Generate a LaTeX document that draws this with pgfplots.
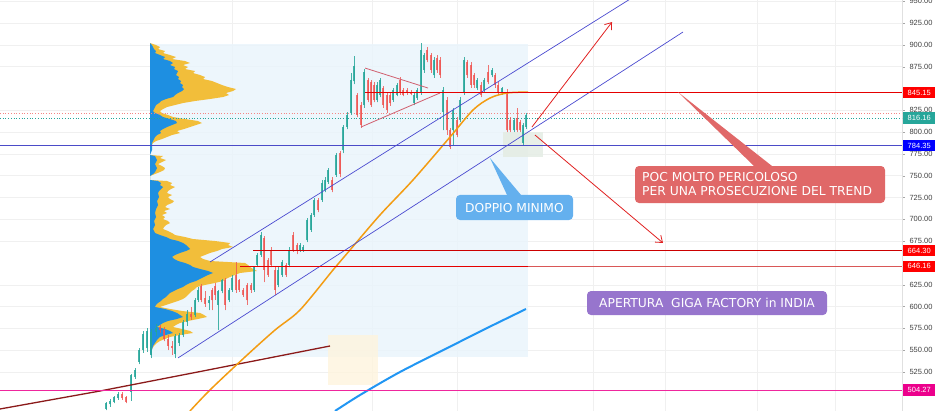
\documentclass[border=0pt]{standalone}
\usepackage{fontspec}
\setmainfont{Liberation Sans}
\newfontfamily\dv{DejaVu Sans}
\usepackage{pgfplots}
\pgfplotsset{compat=1.18}
\usepackage{pgfplotstable}
\usetikzlibrary{arrows.meta}
\definecolor{upc}{HTML}{26A69A}
\definecolor{dnc}{HTML}{EF5350}
\definecolor{vpbg}{HTML}{EAF4FB}
\definecolor{vpyel}{HTML}{F2BE3A}
\definecolor{vpblue}{HTML}{1E8FE1}
\definecolor{chan}{HTML}{4A4AD0}
\definecolor{hblue}{HTML}{4B4BC8}
\definecolor{ma50}{HTML}{F39C12}
\definecolor{ma200}{HTML}{2196F3}
\definecolor{madr}{HTML}{8B1A1A}
\definecolor{boxred}{HTML}{E06868}
\definecolor{boxblue}{HTML}{64B0EE}
\definecolor{boxpur}{HTML}{9775CD}
\definecolor{trired}{HTML}{D06070}
\definecolor{arred}{HTML}{E02020}

\pgfplotstableread{
x o h l c
106 483 491 481 489
110 488 494 485 492
114 491 498 489 496
118 495 502 493 500
131 502 523 492 521
135 519 530 517 527
139 537 552 534 550
143 550 572 547 568
147 552 575 548 572
151 545 574 541 571
156 571 580 566 576
175 546 569 541 566
179 558 570 555 567
183 567 585 565 582
187 582 596 578 592
195 590 610 588 607
198 608 622 605 619
209 604 612 596 608
218 602 619 573 618
222 618 632 615 630
229 607 621 605 619
232 619 636 617 633
254 619 647 617 645
257 648 661 646 659
261 659 685 657 682
278 625 645 622 642
282 636 653 634 651
289 648 668 645 665
300 665 673 663 671
303 665 670 663 668
307 676 702 674 699
311 688 707 686 705
314 705 724 703 722
322 722 745 720 742
325 734 748 731 745
328 743 759 741 757
336 751 776 749 774
343 779 808 776 806
347 806 823 803 820
351 822 868 820 860
354 858 887 855 876
364 831 872 828 869
377 837 857 834 854
380 843 862 840 860
393 837 850 835 848
397 843 856 841 854
414 833 845 831 843
417 839 850 837 848
421 846 902 843 894
424 871 891 868 888
434 865 886 862 883
443 823 852 802 848
453 802 828 785 825
460 814 840 811 837
464 846 886 843 883
477 850 862 848 860
484 848 862 846 860
492 865 873 863 871
502 845 852 843 850
514 802 816 800 814
523 788 810 785 808
526 806 822 804 820
}\upt

\pgfplotstableread{
x o h l c
122 500 502 493 495
126 496 498 489 491
160 577 579 570 573
164 573 577 560 563
168 563 567 550 555
172 555 560 545 552
191 592 600 585 588
201 624 626 605 608
205 610 618 600 603
212 619 621 596 607
215 624 627 608 613
225 630 633 596 602
236 636 651 616 619
239 630 632 617 619
243 619 621 611 613
247 625 627 602 607
251 625 627 616 619
264 679 681 628 642
268 653 656 634 636
271 665 668 645 648
275 642 645 613 619
286 648 650 634 636
293 682 685 663 665
297 671 673 660 665
318 722 724 708 711
332 745 748 731 734
340 776 778 748 752
357 842 845 817 820
361 831 834 805 808
368 860 862 834 837
371 857 860 829 831
374 854 857 834 837
383 850 853 828 831
387 843 846 822 825
390 843 846 830 833
400 860 863 843 846
403 848 850 841 843
407 848 850 843 845
411 846 848 842 844
427 894 897 880 883
431 888 891 868 871
437 885 888 868 871
440 883 886 862 865
447 837 840 797 802
450 802 805 781 783
457 814 817 794 797
467 880 883 862 865
471 877 880 851 854
474 865 868 851 854
481 854 857 840 843
488 869 877 855 857
495 865 868 851 854
498 854 857 843 846
507 846 849 800 802
510 814 817 800 802
517 816 828 800 802
520 811 814 800 802
}\dnt

% volume profile, total volume edge (px = right edge, py = pixel row)
\pgfplotstableread{
px py
150 43
156 45
160 47
158 49
165 51
163 53
170 55
176 57
172 59
185 61
190 63
183 65
188 67
185 69
195 71
193 73
200 75
205 77
203 79
212 81
217 83
222 85
228 87
236 89
233 91
226 93
229 95
223 97
210 99
195 101
183 103
175 105
167 107
163 109
160 111
162 113
168 115
173 117
185 119
198 121
202 123
196 125
190 127
184 129
177 131
180 133
172 135
167 137
162 139
156 141
153 143
151 146
150 150
150 155
163 156
160 158
166 160
162 162
158 164
162 166
165 168
164 170
160 172
155 174
150 176
150 180
167 181
172 183
170 185
175 187
171 189
168 191
167 193
172 195
168 197
170 199
174 201
172 203
167 205
165 207
170 209
164 211
167 213
162 215
165 217
163 219
168 221
170 223
166 225
164 227
163 229
168 231
172 233
175 235
185 237
193 239
215 241
230 243
228 245
233 247
222 249
217 251
210 253
205 255
200 257
203 259
210 261
245 263
248 265
250 267
253 269
257 271
240 273
235 275
230 277
226 279
223 281
215 283
205 285
197 287
195 289
192 291
190 293
188 295
186 297
183 299
178 301
172 303
166 305
160 307
170 309
182 311
200 313
204 315
207 317
198 319
188 321
180 323
176 325
173 327
182 329
190 331
193 333
180 335
170 337
165 339
160 341
157 343
154 346
152 349
150 353
}\vpy

\pgfplotstableread{
px py
150 43
152 45
153 47
154 49
156 51
155 53
160 55
165 57
163 59
170 61
173 63
170 65
175 67
174 69
178 71
177 73
176 75
179 77
178 79
181 81
180 83
183 85
182 87
184 89
182 91
178 93
175 95
173 97
166 99
161 101
159 103
156 105
155 107
154 109
153 111
155 113
160 115
163 117
170 119
176 121
177 123
172 125
167 127
163 129
160 131
161 133
157 135
155 137
154 139
153 141
152 143
152 150
150 155
155 156
157 160
155 164
157 168
155 172
153 174
150 176
150 180
158 181
161 183
160 185
163 187
161 189
159 191
158 193
159 197
157 201
158 205
156 209
155 213
156 217
154 221
155 225
153 229
155 233
160 235
166 237
170 239
178 241
183 243
186 245
188 247
190 249
186 251
180 253
175 255
172 257
174 259
178 261
185 263
190 265
193 267
200 269
208 271
213 273
208 275
204 277
200 279
196 281
190 283
186 285
183 287
178 289
174 291
170 293
168 295
166 297
163 299
161 301
158 303
156 305
155 307
165 309
172 311
177 313
180 315
183 317
177 319
168 321
163 323
160 325
157 327
165 329
170 331
173 333
166 335
160 337
157 340
155 343
153 346
152 350
150 355
}\vpb

\begin{document}
\begin{tikzpicture}
\useasboundingbox (0,0) rectangle (940pt,411pt);
\begin{axis}[
  at={(0,0)}, anchor=south west, scale only axis,
  width=902pt, height=411pt,
  xmin=0, xmax=902, ymin=480.3, ymax=951.4,
  axis x line=none, axis y line*=right,
  y axis line style={draw=black!12, -},
  ytick={525,550,575,600,625,675,700,725,750,775,800,825,875,900,925,950},
  yticklabel style={font=\fontsize{7.5}{8}\selectfont, text=black!75, xshift=1pt,
    /pgf/number format/.cd, fixed, fixed zerofill, precision=2, assume math mode=true},
  tick style={black!35}, major tick length=3pt, tick align=outside,
  ymajorgrids, grid style={black!6},
  clip mode=individual,
  candle/.style={only marks, mark=*, mark size=0pt, mark options={draw=none, fill=none}},
]
% vertical faint grid
\foreach \gx in {232,372,457,593,665,757,835} {
  \edef\tmp{\noexpand\addplot[black!6, line width=0.5pt] coordinates {(\gx,480.3) (\gx,951.4)};}\tmp
}
% shaded regions
\addplot[fill=vpbg, draw=none, fill opacity=0.85] coordinates {(150,900.9) (528,900.9) (528,542.2) (150,542.2)} -- cycle;
\addplot[fill=yellow!40!orange!12, draw=none, fill opacity=0.8] coordinates {(328,567.4) (378,567.4) (378,510.1) (328,510.1)} -- cycle;
\addplot[fill=green!30!black!10!white, draw=none, fill opacity=0.9] coordinates {(503,800.1) (543,800.1) (543,771.4) (503,771.4)} -- cycle;

% volume profile
\addplot[fill=vpyel, draw=none] table[x=px, y expr={925-(\thisrow{py}-23)*1.1461}] {\vpy} -- cycle;
\addplot[fill=vpblue, draw=none] table[x=px, y expr={925-(\thisrow{py}-23)*1.1461}] {\vpb} -- cycle;

% dotted lines
\addplot[dnc!70, dotted, line width=0.7pt] coordinates {(0,821.8) (902,821.8)};
\addplot[upc, dotted, line width=0.7pt] coordinates {(0,816.16) (902,816.16)};

% candles: wicks and bodies
\addplot[candle, error bars/.cd, y dir=plus, y explicit, error mark=none,
  error bar style={draw=upc, line width=0.7pt, opacity=0.85}]
  table[x=x, y=l, y error plus expr=\thisrow{h}-\thisrow{l}, y error minus expr=0] {\upt};
\addplot[candle, error bars/.cd, y dir=plus, y explicit, error mark=none,
  error bar style={draw=upc, line width=2.4pt, opacity=0.85}]
  table[x=x, y=o, y error plus expr=\thisrow{c}-\thisrow{o}, y error minus expr=0] {\upt};
\addplot[candle, error bars/.cd, y dir=plus, y explicit, error mark=none,
  error bar style={draw=dnc, line width=0.7pt, opacity=0.8}]
  table[x=x, y=l, y error plus expr=\thisrow{h}-\thisrow{l}, y error minus expr=0] {\dnt};
\addplot[candle, error bars/.cd, y dir=plus, y explicit, error mark=none,
  error bar style={draw=dnc, line width=2.4pt, opacity=0.8}]
  table[x=x, y=c, y error plus expr=\thisrow{o}-\thisrow{c}, y error minus expr=0] {\dnt};

% moving averages
\addplot[madr, line width=1.3pt] coordinates {(0,482.6) (100,503.2) (200,525.5) (330,554.8)};
\addplot[ma50, line width=1.5pt, smooth] coordinates {(190,480.3) (210,504.4) (245,542.2) (275,573.1) (300,596.1) (333,641.9) (350,664.8) (380,705.0) (413,745.1) (450,794.3) (473,825.3) (490,839.0) (507,844.8) (528,845.9)};
\addplot[ma200, line width=2pt, smooth] coordinates {(335,480.3) (360,498.6) (400,525.0) (450,554.0) (483,573.1) (526,597.2)};

% channel
\addplot[chan, line width=0.7pt] coordinates {(210,651.1) (630,952.4)};
\addplot[chan, line width=0.7pt] coordinates {(178,541.1) (683,914.7)};

% triangle
\addplot[trired, line width=0.8pt] coordinates {(365,873.4) (428,850.5)};
\addplot[trired, line width=0.8pt] coordinates {(361,805.8) (440,844.8)};

% horizontal levels
\addplot[hblue, line width=1.1pt] coordinates {(0,784.35) (902,784.35)};
\addplot[red!90!black, line width=1.5pt] coordinates {(365,845.15) (902,845.15)};
\addplot[red!80!black, line width=0.8pt] coordinates {(253,664.30) (902,664.30)};
\addplot[red!60!white!85!black, line width=1.1pt] coordinates {(528,646.16) (902,646.16)};
\addplot[red!90!black, line width=1.4pt] coordinates {(240,646.16) (528,646.16)};
\addplot[magenta!85!white, line width=1.1pt] coordinates {(0,504.27) (902,504.27)};

% arrows
\addplot[arred, line width=0.8pt, -{Straight Barb[length=6pt,width=9pt]}] coordinates {(532,805.8) (612,926.1)};
\addplot[arred, line width=0.8pt, -{Straight Barb[length=6pt,width=9pt]}] coordinates {(535,796.6) (663,672.9)};

% callout pointers
\fill[boxblue] (axis cs:490,770.3) -- (axis cs:507,727.9) -- (axis cs:521,727.9) -- cycle;
\fill[boxred] (axis cs:678,845.9) -- (axis cs:754,761.1) -- (axis cs:772,761.1) -- cycle;

% callout boxes
\fill[boxred, rounded corners=4pt] (axis cs:635,761.1) rectangle (axis cs:885,718.7);
\node[anchor=west, text=white, align=left, inner sep=0pt, font=\dv\fontsize{12.3}{13.5}\selectfont] at (axis cs:642,740.6) {POC MOLTO PERICOLOSO\\PER UNA PROSECUZIONE DEL TREND};
\fill[boxblue, rounded corners=4pt] (axis cs:456,727.9) rectangle (axis cs:573,699.2);
\node[text=white, inner sep=0pt, font=\dv\fontsize{12.3}{13.5}\selectfont] at (axis cs:514.5,713.2) {DOPPIO MINIMO};
\fill[boxpur, rounded corners=4pt] (axis cs:587,617.8) rectangle (axis cs:827,590.3);
\node[text=white, inner sep=0pt, font=\dv\fontsize{12.3}{13.5}\selectfont] at (axis cs:707,603.8) {APERTURA\ \ GIGA FACTORY in INDIA};

\coordinate (P1) at (axis cs:903,845.15);
\coordinate (P2) at (axis cs:903,816.16);
\coordinate (P3) at (axis cs:903,784.35);
\coordinate (P4) at (axis cs:903,664.30);
\coordinate (P5) at (axis cs:903,646.16);
\coordinate (P6) at (axis cs:903,504.27);
\end{axis}
\tikzset{pl/.style={anchor=west, minimum width=32pt, minimum height=11.5pt, inner sep=0pt, text=white, font=\fontsize{7.5}{8}\selectfont}}
\node[pl, fill=red] at (P1) {845.15};
\node[pl, fill=upc] at (P2) {816.16};
\node[pl, fill=blue] at (P3) {784.35};
\node[pl, fill=red] at (P4) {664.30};
\node[pl, fill=red] at (P5) {646.16};
\node[pl, fill=magenta] at (P6) {504.27};
\end{tikzpicture}
\end{document}
